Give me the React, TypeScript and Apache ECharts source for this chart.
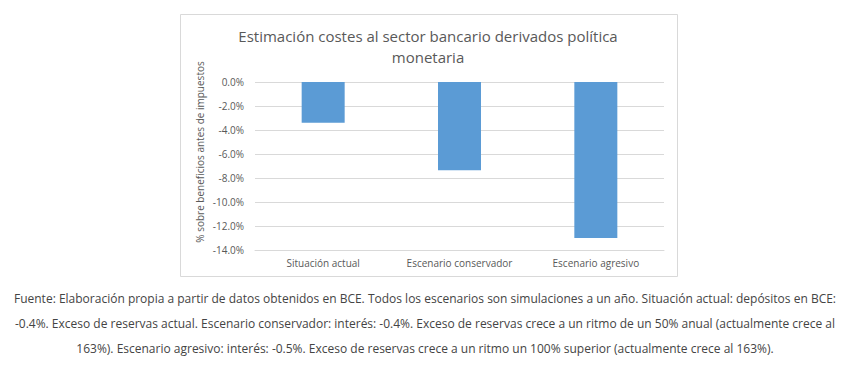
import React, { useEffect, useRef } from "react";
import * as echarts from "echarts";

const categories = ["Situación actual", "Escenario conservador", "Escenario agresivo"];
const values = [-3.4, -7.35, -13.0];
const titleLines = ["Estimación costes al sector bancario derivados política", "monetaria"];
const yAxisName = "% sobre beneficios antes de impuestos";
const captionLines = [
  "Fuente: Elaboración propia a partir de datos obtenidos en BCE. Todos los escenarios son simulaciones a un año. Situación actual: depósitos en BCE:",
  "-0.4%. Exceso de reservas actual. Escenario conservador: interés: -0.4%. Exceso de reservas crece a un ritmo de un 50% anual (actualmente crece al",
  "163%). Escenario agresivo: interés: -0.5%. Exceso de reservas crece a un ritmo un 100% superior (actualmente crece al 163%).",
];

export default function App() {
  const ref = useRef<HTMLDivElement>(null);
  useEffect(() => {
    if (!ref.current) return;
    const chart = echarts.init(ref.current, null, { renderer: "svg" });
    const font = "'Open Sans', sans-serif";
    chart.setOption({
      animation: false,
      backgroundColor: "#ffffff",
      grid: { left: 255, right: 186, top: 82, bottom: 116 },
      xAxis: {
        type: "category",
        data: categories,
        position: "bottom",
        axisLine: { show: true, onZero: false, lineStyle: { color: "#d9d9d9", width: 1 } },
        axisTick: { show: false },
        axisLabel: { color: "#595959", fontSize: 10, fontFamily: font, margin: 8, interval: 0 },
      },
      yAxis: {
        type: "value",
        min: -14,
        max: 0,
        interval: 2,
        axisLine: { show: false },
        axisTick: { show: false },
        axisLabel: {
          color: "#595959",
          fontSize: 10,
          fontFamily: font,
          margin: 11,
          formatter: (v: number) => v.toFixed(1) + "%",
        },
        splitLine: { lineStyle: { color: "#d9d9d9", width: 1 } },
      },
      series: [
        {
          type: "bar",
          data: values,
          barWidth: 43,
          itemStyle: { color: "#5b9bd5" },
        },
      ],
      graphic: [
        {
          type: "rect",
          z: -10,
          silent: true,
          shape: { x: 180.5, y: 14.5, width: 497, height: 262 },
          style: { fill: "#ffffff", stroke: "#d9d9d9", lineWidth: 1 },
        },
        ...titleLines.map((t, i) => ({
          type: "text",
          x: 428,
          y: 36 + i * 21,
          style: {
            text: t,
            fill: "#595959",
            font: `15px ${font}`,
            textAlign: "center",
            textVerticalAlign: "middle",
          },
        })),
        {
          type: "text",
          x: 200,
          y: 152,
          rotation: Math.PI / 2,
          style: {
            text: yAxisName,
            fill: "#595959",
            font: `10px ${font}`,
            textAlign: "center",
            textVerticalAlign: "middle",
          },
        },
        ...captionLines.map((t, i) => ({
          type: "text",
          x: 425,
          y: 298 + i * 25,
          style: {
            text: t,
            fill: "#444444",
            font: `12px ${font}`,
            textAlign: "center",
            textVerticalAlign: "middle",
          },
        })),
      ],
    });
    return () => chart.dispose();
  }, []);
  return (
    <div
      ref={ref}
      style={{ position: "absolute", left: 0, top: 0, width: 850, height: 366 }}
    />
  );
}
